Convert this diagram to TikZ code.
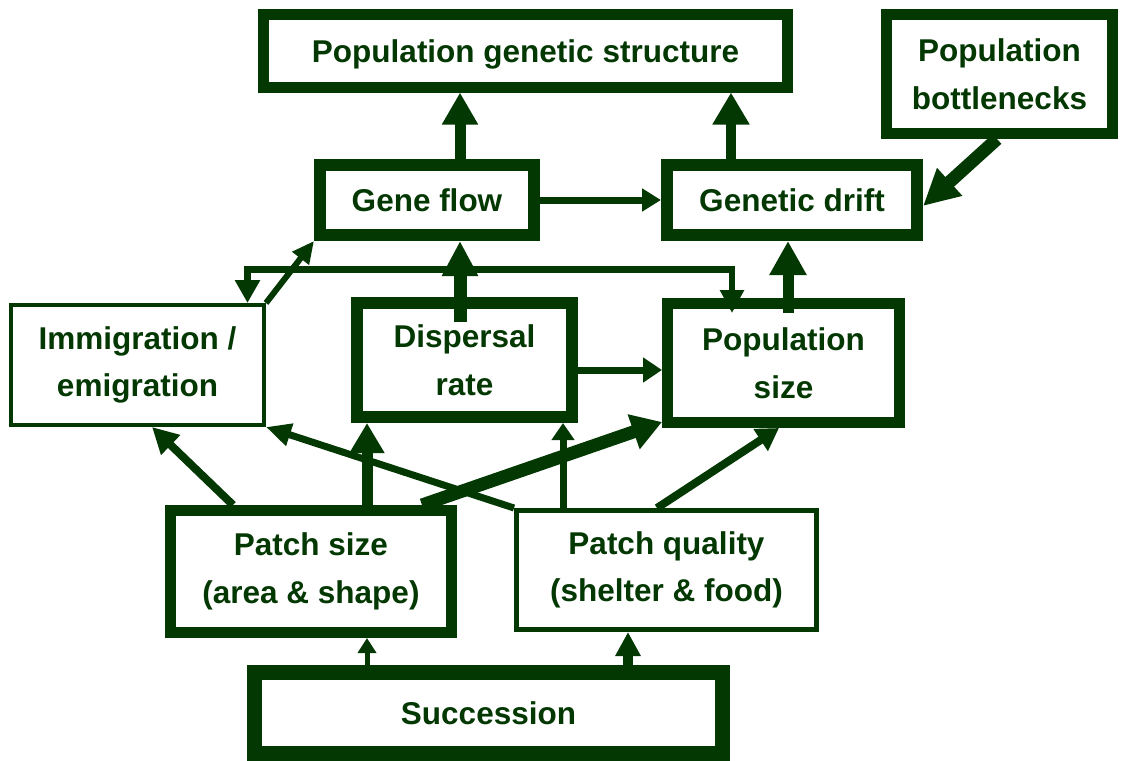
\documentclass[tikz,border=0pt]{standalone}
\usepackage{fontspec}
\setmainfont{Liberation Sans}
\usetikzlibrary{arrows.meta,calc}
\definecolor{dg}{RGB}{3,56,3}
\tikzset{
  box/.style={draw=dg, fill=white, text=dg, rectangle, inner sep=0pt, align=center,
              font=\fontsize{31.5}{47.5}\selectfont\bfseries},
  oneline/.style={text depth=0pt},
  conn/.style={draw=dg, line cap=butt},
}
\newcommand{\tip}[2]{{Triangle[length=#1pt,width=#2pt]}}
\begin{document}
\begin{tikzpicture}[x=1pt,y=-1pt]
\useasboundingbox (0,0) rectangle (1121,760);
% nodes
\node[box, oneline, line width=11pt, minimum width=524pt, minimum height=72pt] (pgs) at (525.5,51) {Population genetic structure};
\node[box, line width=11pt, minimum width=226pt, minimum height=119pt] (bn) at (999.5,74) {Population\\bottlenecks};
\node[box, oneline, line width=12pt, minimum width=214pt, minimum height=70pt] (gf) at (427,200) {Gene flow};
\node[box, oneline, line width=12pt, minimum width=250pt, minimum height=70pt] (gd) at (792,200) {Genetic drift};
\node[box, line width=4pt, minimum width=253pt, minimum height=120pt] (imm) at (137.5,365) {Immigration /\\emigration};
\node[box, line width=12pt, minimum width=215pt, minimum height=114pt] (disp) at (464.5,360) {Dispersal\\rate};
\node[box, line width=11pt, minimum width=232pt, minimum height=119pt] (pop) at (783.5,363) {Population\\size};
\node[box, line width=11pt, minimum width=281pt, minimum height=122pt] (ps) at (311,571.5) {Patch size\\(area \& shape)};
\node[box, line width=5pt, minimum width=300pt, minimum height=119pt] (pq) at (666.5,570) {Patch quality\\(shelter \& food)};
\node[box, oneline, line width=15pt, minimum width=468pt, minimum height=81pt] (succ) at (488.5,713) {Succession};
% connectors
\draw[conn, line width=11pt, -\tip{32}{34}] (gf.north -| 460,0) -- (pgs.south -| 460,0);
\draw[conn, line width=10pt, -\tip{32}{35}] (gd.north -| 731,0) -- (pgs.south -| 731,0);
\draw[conn, line width=7pt, -\tip{19}{22}] (gf.east) -- (gd.west);
\draw[conn, line width=13pt, -\tip{36}{35}] (bn.south -| 997,0) -- (gd.east |- 0,206);
\draw[conn, line width=13pt, -\tip{35}{34}] ($(disp.north -| 460,0)+(0,25)$) -- (gf.south -| 460,0);
\draw[conn, line width=11pt, -\tip{34}{35}] ($(pop.north -| 788,0)+(0,15)$) -- (gd.south -| 788,0);
\draw[conn, line width=6.5pt, \tip{23}{24}-\tip{23}{23}] (imm.north -| 247.5,0) -- (247.5,269.5) -- (732,269.5) -- ($(pop.north -| 732,0)+(0,15)$);
\draw[conn, line width=6pt, -\tip{22}{20}] (imm.north east) -- (gf.south west);
\draw[conn, line width=7pt, -\tip{19}{24}] (disp.east |- 0,370) -- (pop.west |- 0,370);
\draw[conn, line width=8pt, -\tip{26}{26}] (ps.north -| 233,0) -- (imm.south -| 152,0);
\draw[conn, line width=11pt, -\tip{30}{33}] (ps.north -| 367,0) -- (disp.south -| 367,0);
\draw[conn, line width=13pt, -\tip{30}{35}] (ps.north -| 422,0) -- (pop.west |- 0,422);
\draw[conn, line width=7pt, -\tip{25}{22}] (pq.north west) -- (imm.south east);
\draw[conn, line width=7pt, -\tip{17}{22}] (pq.north -| 563,0) -- (disp.south -| 563,0);
\draw[conn, line width=8pt, -\tip{22}{25}] (pq.north -| 657,0) -- (pop.south -| 779,0);
\draw[conn, line width=5pt, -\tip{15}{18}] (succ.north -| 367,0) -- (ps.south -| 367,0);
\draw[conn, line width=10pt, -\tip{24}{24}] (succ.north -| 628,0) -- (pq.south -| 628,0);
\end{tikzpicture}
\end{document}
